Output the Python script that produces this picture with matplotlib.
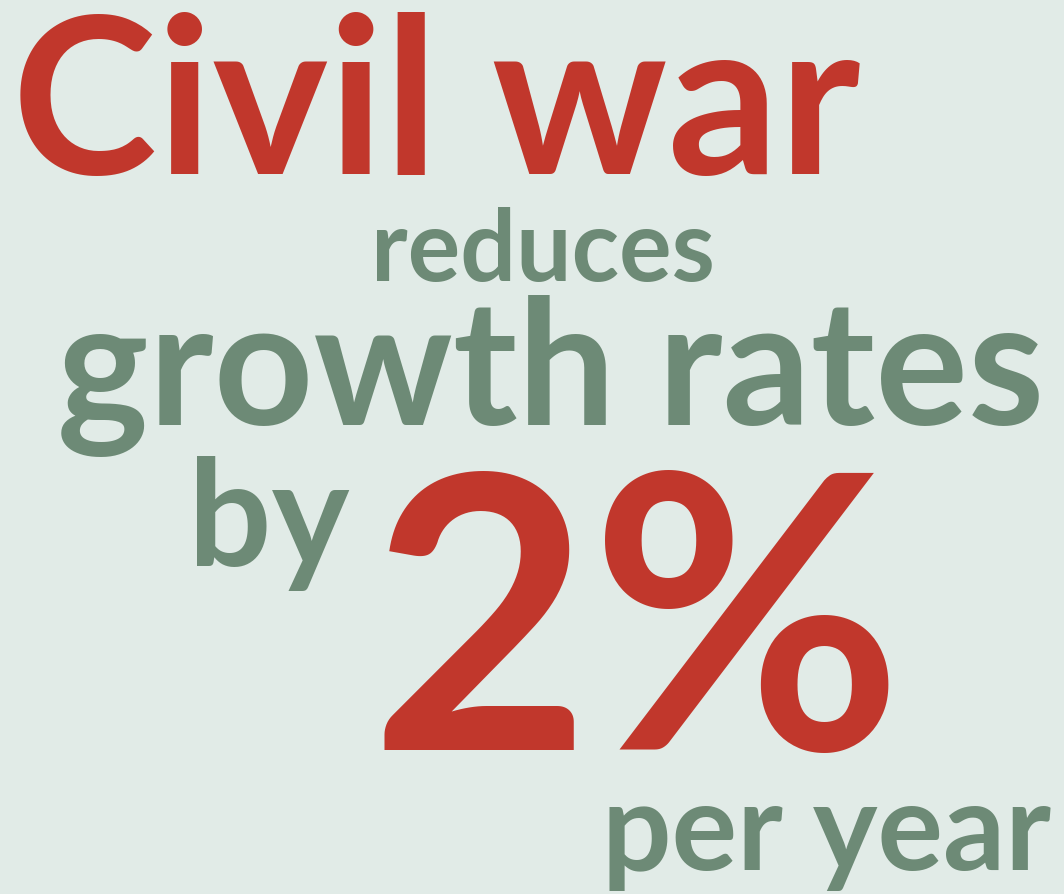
import matplotlib
matplotlib.use('Agg')
from matplotlib import pyplot as plt
from matplotlib.font_manager import FontProperties
from matplotlib.textpath import TextPath

W, H, DPI = 1064, 894, 100
bg = '#e1ebe7'
red = '#c1372c'
green = '#6d8a76'

# words of the poster, top to bottom
words = ['Civil war', 'reduces', 'growth rates', 'by', '2%', 'per year']
colors = [red, green, green, green, red, green]

# ink box of each line in pixels: left, right, top, baseline
boxes = [
    (18, 862, 12, 174),
    (377, 713, 208, 281),
    (57, 1042, 297, 425),
    (197, 350, 457, 566),
    (385, 888, 470, 750),
    (606, 1055, 807, 870),
]

fp = FontProperties(family='Lato', weight='bold')

fig = plt.figure(figsize=(W / DPI, H / DPI), dpi=DPI)
fig.patch.set_facecolor(bg)


def place(s, color, box):
    left, right, top, base = box
    ext = TextPath((0, 0), s, size=100, prop=fp).get_extents()
    # em size in px that matches the width, and the one matching the height
    em_w = 100 * (right - left) / ext.width
    em_h = 100 * (base - top) / ext.y1
    em = (em_w * em_h) ** 0.5
    k = em / 100
    ink_w = ext.width * k
    x0 = left + ((right - left) - ink_w) / 2 - ext.x0 * k
    fig.text(x0 / W, 1 - base / H, s, color=color, fontproperties=fp,
             fontsize=em * 72 / DPI, ha='left', va='baseline')


for s, c, b in zip(words, colors, boxes):
    place(s, c, b)

fig.savefig('out.png', dpi=DPI, facecolor=bg)
